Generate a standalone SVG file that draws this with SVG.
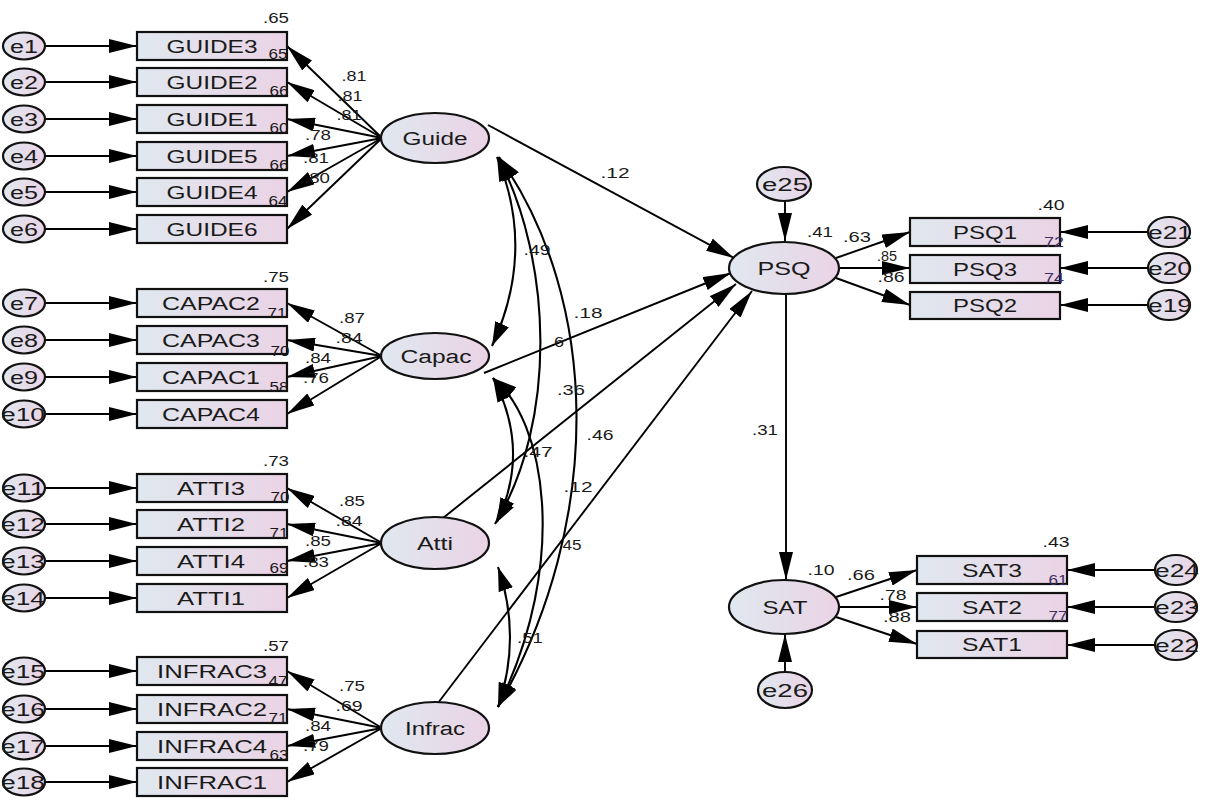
<svg xmlns="http://www.w3.org/2000/svg" width="1218" height="802" viewBox="0 0 1218 802">
<defs>
<linearGradient id="gf" x1="0" y1="0" x2="1" y2="0">
<stop offset="0" stop-color="#e0e8ef"/>
<stop offset="1" stop-color="#ead3e5"/>
</linearGradient>
<marker id="ah" markerUnits="userSpaceOnUse" markerWidth="28" markerHeight="14" refX="28" refY="7" orient="auto-start-reverse" viewBox="0 0 28 14">
<path d="M0,0 L28,7 L0,14 Z" fill="#000"/>
</marker>
<marker id="ac" markerUnits="userSpaceOnUse" markerWidth="24" markerHeight="15" refX="24" refY="7.5" orient="auto-start-reverse" viewBox="0 0 24 15">
<path d="M0,0 L24,7.5 L0,15 Z" fill="#000"/>
</marker>
</defs>
<style>
.b{fill:url(#gf);stroke:#111;stroke-width:2.2}
.t{font-family:"Liberation Sans",Arial,sans-serif;font-size:18px;fill:#1a1a1a;text-anchor:middle}
.n{font-family:"Liberation Sans",Arial,sans-serif;font-size:15px;fill:#1a1a1a;text-anchor:middle}
.p{fill:#3d2f5e}
.l{stroke:#000;stroke-width:1.9;fill:none;marker-end:url(#ah)}
.c{stroke:#000;stroke-width:2.1;fill:none;marker-end:url(#ac);marker-start:url(#ac)}
</style>
<rect width="1218" height="802" fill="#fff"/>

<g id="connectors">
<line class="l" x1="45" y1="46" x2="137" y2="46"/>
<line class="l" x1="45" y1="82" x2="137" y2="82"/>
<line class="l" x1="45" y1="119" x2="137" y2="119"/>
<line class="l" x1="45" y1="156" x2="137" y2="156"/>
<line class="l" x1="45" y1="192" x2="137" y2="192"/>
<line class="l" x1="45" y1="229" x2="137" y2="229"/>
<line class="l" x1="45" y1="303" x2="137" y2="303"/>
<line class="l" x1="45" y1="340" x2="137" y2="340"/>
<line class="l" x1="45" y1="377" x2="137" y2="377"/>
<line class="l" x1="45" y1="414" x2="137" y2="414"/>
<line class="l" x1="45" y1="488" x2="137" y2="488"/>
<line class="l" x1="45" y1="524" x2="137" y2="524"/>
<line class="l" x1="45" y1="561" x2="137" y2="561"/>
<line class="l" x1="45" y1="598" x2="137" y2="598"/>
<line class="l" x1="45" y1="671" x2="137" y2="671"/>
<line class="l" x1="45" y1="709" x2="137" y2="709"/>
<line class="l" x1="45" y1="746" x2="137" y2="746"/>
<line class="l" x1="45" y1="782" x2="137" y2="782"/>
<line class="l" x1="382" y1="138" x2="287" y2="46"/>
<line class="l" x1="382" y1="138" x2="287" y2="82"/>
<line class="l" x1="382" y1="138" x2="287" y2="119"/>
<line class="l" x1="382" y1="138" x2="287" y2="156"/>
<line class="l" x1="382" y1="138" x2="287" y2="192"/>
<line class="l" x1="382" y1="138" x2="287" y2="229"/>
<line class="l" x1="382" y1="356" x2="287" y2="303"/>
<line class="l" x1="382" y1="356" x2="287" y2="340"/>
<line class="l" x1="382" y1="356" x2="287" y2="377"/>
<line class="l" x1="382" y1="356" x2="287" y2="414"/>
<line class="l" x1="382" y1="543" x2="287" y2="488"/>
<line class="l" x1="382" y1="543" x2="287" y2="524"/>
<line class="l" x1="382" y1="543" x2="287" y2="561"/>
<line class="l" x1="382" y1="543" x2="287" y2="598"/>
<line class="l" x1="382" y1="728" x2="287" y2="671"/>
<line class="l" x1="382" y1="728" x2="287" y2="709"/>
<line class="l" x1="382" y1="728" x2="287" y2="746"/>
<line class="l" x1="382" y1="728" x2="287" y2="782"/>
<path class="c" d="M497,157 Q536,251 492,346"/>
<path class="c" d="M498,157 C552,260 558,420 495,524"/>
<path class="c" d="M499,157 C600,300 605,520 498,707"/>
<path class="c" d="M493,378 Q531,450 497,522"/>
<path class="c" d="M493,378 C545,420 570,560 498,707"/>
<path class="c" d="M498,567 Q522,637 498,707"/>
<line class="l" x1="488" y1="125" x2="734" y2="258"/>
<line class="l" x1="484" y1="373" x2="731" y2="273"/>
<line class="l" x1="443" y1="518" x2="736" y2="284"/>
<line class="l" x1="438" y1="703" x2="752" y2="291"/>
<line class="l" x1="786" y1="295" x2="786" y2="580"/>
<line class="l" x1="785" y1="201" x2="785" y2="241"/>
<line class="l" x1="785" y1="672" x2="785" y2="634"/>
<line class="l" x1="836" y1="258" x2="910" y2="232"/>
<line class="l" x1="840" y1="268" x2="910" y2="268"/>
<line class="l" x1="836" y1="278" x2="910" y2="305"/>
<line class="l" x1="1148" y1="232" x2="1060" y2="232"/>
<line class="l" x1="1148" y1="268" x2="1060" y2="268"/>
<line class="l" x1="1148" y1="305" x2="1060" y2="305"/>
<line class="l" x1="836" y1="597" x2="917" y2="570"/>
<line class="l" x1="840" y1="607" x2="917" y2="607"/>
<line class="l" x1="836" y1="617" x2="917" y2="644"/>
<line class="l" x1="1155" y1="570" x2="1067" y2="570"/>
<line class="l" x1="1155" y1="607" x2="1067" y2="607"/>
<line class="l" x1="1155" y1="645" x2="1067" y2="645"/>
</g>

<g id="e1"><ellipse class="b" cx="24" cy="46" rx="21" ry="13.5"/><text class="t" x="24" y="52.5" textLength="28" lengthAdjust="spacingAndGlyphs">e1</text></g>
<g id="e2"><ellipse class="b" cx="24" cy="82" rx="21" ry="13.5"/><text class="t" x="24" y="88.5" textLength="28" lengthAdjust="spacingAndGlyphs">e2</text></g>
<g id="e3"><ellipse class="b" cx="24" cy="119" rx="21" ry="13.5"/><text class="t" x="24" y="125.5" textLength="28" lengthAdjust="spacingAndGlyphs">e3</text></g>
<g id="e4"><ellipse class="b" cx="24" cy="156" rx="21" ry="13.5"/><text class="t" x="24" y="162.5" textLength="28" lengthAdjust="spacingAndGlyphs">e4</text></g>
<g id="e5"><ellipse class="b" cx="24" cy="192" rx="21" ry="13.5"/><text class="t" x="24" y="198.5" textLength="28" lengthAdjust="spacingAndGlyphs">e5</text></g>
<g id="e6"><ellipse class="b" cx="24" cy="229" rx="21" ry="13.5"/><text class="t" x="24" y="235.5" textLength="28" lengthAdjust="spacingAndGlyphs">e6</text></g>
<g id="e7"><ellipse class="b" cx="24" cy="303" rx="21" ry="13.5"/><text class="t" x="24" y="309.5" textLength="28" lengthAdjust="spacingAndGlyphs">e7</text></g>
<g id="e8"><ellipse class="b" cx="24" cy="340" rx="21" ry="13.5"/><text class="t" x="24" y="346.5" textLength="28" lengthAdjust="spacingAndGlyphs">e8</text></g>
<g id="e9"><ellipse class="b" cx="24" cy="377" rx="21" ry="13.5"/><text class="t" x="24" y="383.5" textLength="28" lengthAdjust="spacingAndGlyphs">e9</text></g>
<g id="e10"><ellipse class="b" cx="24" cy="414" rx="21" ry="13.5"/><text class="t" x="23" y="420.5" textLength="44" lengthAdjust="spacingAndGlyphs">e10</text></g>
<g id="e11"><ellipse class="b" cx="24" cy="488" rx="21" ry="13.5"/><text class="t" x="23" y="494.5" textLength="44" lengthAdjust="spacingAndGlyphs">e11</text></g>
<g id="e12"><ellipse class="b" cx="24" cy="524" rx="21" ry="13.5"/><text class="t" x="23" y="530.5" textLength="44" lengthAdjust="spacingAndGlyphs">e12</text></g>
<g id="e13"><ellipse class="b" cx="24" cy="561" rx="21" ry="13.5"/><text class="t" x="23" y="567.5" textLength="44" lengthAdjust="spacingAndGlyphs">e13</text></g>
<g id="e14"><ellipse class="b" cx="24" cy="598" rx="21" ry="13.5"/><text class="t" x="23" y="604.5" textLength="44" lengthAdjust="spacingAndGlyphs">e14</text></g>
<g id="e15"><ellipse class="b" cx="24" cy="671" rx="21" ry="13.5"/><text class="t" x="23" y="677.5" textLength="44" lengthAdjust="spacingAndGlyphs">e15</text></g>
<g id="e16"><ellipse class="b" cx="24" cy="709" rx="21" ry="13.5"/><text class="t" x="23" y="715.5" textLength="44" lengthAdjust="spacingAndGlyphs">e16</text></g>
<g id="e17"><ellipse class="b" cx="24" cy="746" rx="21" ry="13.5"/><text class="t" x="23" y="752.5" textLength="44" lengthAdjust="spacingAndGlyphs">e17</text></g>
<g id="e18"><ellipse class="b" cx="24" cy="782" rx="21" ry="13.5"/><text class="t" x="23" y="788.5" textLength="44" lengthAdjust="spacingAndGlyphs">e18</text></g>

<g id="GUIDE3"><rect class="b" x="137" y="32" width="150" height="28"/><text class="t" x="212" y="52.5" textLength="91" lengthAdjust="spacingAndGlyphs">GUIDE3</text></g>
<g id="GUIDE2"><rect class="b" x="137" y="68" width="150" height="28"/><text class="t" x="212" y="88.5" textLength="91" lengthAdjust="spacingAndGlyphs">GUIDE2</text></g>
<g id="GUIDE1"><rect class="b" x="137" y="105" width="150" height="28"/><text class="t" x="212" y="125.5" textLength="91" lengthAdjust="spacingAndGlyphs">GUIDE1</text></g>
<g id="GUIDE5"><rect class="b" x="137" y="142" width="150" height="28"/><text class="t" x="212" y="162.5" textLength="91" lengthAdjust="spacingAndGlyphs">GUIDE5</text></g>
<g id="GUIDE4"><rect class="b" x="137" y="178" width="150" height="28"/><text class="t" x="212" y="198.5" textLength="91" lengthAdjust="spacingAndGlyphs">GUIDE4</text></g>
<g id="GUIDE6"><rect class="b" x="137" y="215" width="150" height="28"/><text class="t" x="212" y="235.5" textLength="91" lengthAdjust="spacingAndGlyphs">GUIDE6</text></g>
<g id="CAPAC2"><rect class="b" x="137" y="289" width="150" height="28"/><text class="t" x="211" y="309.5" textLength="98" lengthAdjust="spacingAndGlyphs">CAPAC2</text></g>
<g id="CAPAC3"><rect class="b" x="137" y="326" width="150" height="28"/><text class="t" x="211" y="346.5" textLength="98" lengthAdjust="spacingAndGlyphs">CAPAC3</text></g>
<g id="CAPAC1"><rect class="b" x="137" y="363" width="150" height="28"/><text class="t" x="211" y="383.5" textLength="98" lengthAdjust="spacingAndGlyphs">CAPAC1</text></g>
<g id="CAPAC4"><rect class="b" x="137" y="400" width="150" height="28"/><text class="t" x="211" y="420.5" textLength="98" lengthAdjust="spacingAndGlyphs">CAPAC4</text></g>
<g id="ATTI3"><rect class="b" x="137" y="474" width="150" height="28"/><text class="t" x="211" y="494.5" textLength="68" lengthAdjust="spacingAndGlyphs">ATTI3</text></g>
<g id="ATTI2"><rect class="b" x="137" y="510" width="150" height="28"/><text class="t" x="211" y="530.5" textLength="68" lengthAdjust="spacingAndGlyphs">ATTI2</text></g>
<g id="ATTI4"><rect class="b" x="137" y="547" width="150" height="28"/><text class="t" x="211" y="567.5" textLength="68" lengthAdjust="spacingAndGlyphs">ATTI4</text></g>
<g id="ATTI1"><rect class="b" x="137" y="584" width="150" height="28"/><text class="t" x="211" y="604.5" textLength="68" lengthAdjust="spacingAndGlyphs">ATTI1</text></g>
<g id="INFRAC3"><rect class="b" x="137" y="657" width="150" height="28"/><text class="t" x="212" y="677.5" textLength="110" lengthAdjust="spacingAndGlyphs">INFRAC3</text></g>
<g id="INFRAC2"><rect class="b" x="137" y="695" width="150" height="28"/><text class="t" x="212" y="715.5" textLength="110" lengthAdjust="spacingAndGlyphs">INFRAC2</text></g>
<g id="INFRAC4"><rect class="b" x="137" y="732" width="150" height="28"/><text class="t" x="212" y="752.5" textLength="110" lengthAdjust="spacingAndGlyphs">INFRAC4</text></g>
<g id="INFRAC1"><rect class="b" x="137" y="768" width="150" height="28"/><text class="t" x="212" y="788.5" textLength="110" lengthAdjust="spacingAndGlyphs">INFRAC1</text></g>

<g id="Guide"><ellipse class="b" cx="435" cy="138" rx="54" ry="25"/><text class="t" x="435" y="144.5" textLength="65" lengthAdjust="spacingAndGlyphs">Guide</text></g>
<g id="Capac"><ellipse class="b" cx="435" cy="356" rx="54" ry="23"/><text class="t" x="436" y="362.5" textLength="71" lengthAdjust="spacingAndGlyphs">Capac</text></g>
<g id="Atti"><ellipse class="b" cx="435" cy="543" rx="54" ry="26"/><text class="t" x="435" y="549.5" textLength="36" lengthAdjust="spacingAndGlyphs">Atti</text></g>
<g id="Infrac"><ellipse class="b" cx="435" cy="728" rx="54" ry="26"/><text class="t" x="435" y="734.5" textLength="60" lengthAdjust="spacingAndGlyphs">Infrac</text></g>
<g id="PSQ"><ellipse class="b" cx="784" cy="268" rx="55" ry="26"/><text class="t" x="784" y="274.5" textLength="53" lengthAdjust="spacingAndGlyphs">PSQ</text></g>
<g id="SAT"><ellipse class="b" cx="784" cy="607" rx="55" ry="27"/><text class="t" x="785" y="613.5" textLength="45" lengthAdjust="spacingAndGlyphs">SAT</text></g>
<g id="e25"><ellipse class="b" cx="784" cy="184" rx="27" ry="17"/><text class="t" x="785" y="190.5" textLength="46" lengthAdjust="spacingAndGlyphs">e25</text></g>
<g id="e26"><ellipse class="b" cx="785" cy="690" rx="27" ry="18"/><text class="t" x="785" y="696.5" textLength="46" lengthAdjust="spacingAndGlyphs">e26</text></g>

<g id="PSQ1"><rect class="b" x="910" y="218" width="150" height="28"/><text class="t" x="985" y="238.5" textLength="64" lengthAdjust="spacingAndGlyphs">PSQ1</text></g>
<g id="PSQ3"><rect class="b" x="910" y="255" width="150" height="28"/><text class="t" x="985" y="275.5" textLength="64" lengthAdjust="spacingAndGlyphs">PSQ3</text></g>
<g id="PSQ2"><rect class="b" x="910" y="292" width="150" height="27"/><text class="t" x="985" y="312" textLength="64" lengthAdjust="spacingAndGlyphs">PSQ2</text></g>
<g id="e21"><ellipse class="b" cx="1169" cy="232" rx="21" ry="15"/><text class="t" x="1170" y="238.5" textLength="44" lengthAdjust="spacingAndGlyphs">e21</text></g>
<g id="e20"><ellipse class="b" cx="1169" cy="268" rx="21" ry="15"/><text class="t" x="1170" y="274.5" textLength="44" lengthAdjust="spacingAndGlyphs">e20</text></g>
<g id="e19"><ellipse class="b" cx="1169" cy="305" rx="21" ry="15"/><text class="t" x="1170" y="311.5" textLength="44" lengthAdjust="spacingAndGlyphs">e19</text></g>
<g id="SAT3"><rect class="b" x="917" y="556" width="150" height="28"/><text class="t" x="992" y="576.5" textLength="60" lengthAdjust="spacingAndGlyphs">SAT3</text></g>
<g id="SAT2"><rect class="b" x="917" y="593" width="150" height="28"/><text class="t" x="992" y="613.5" textLength="60" lengthAdjust="spacingAndGlyphs">SAT2</text></g>
<g id="SAT1"><rect class="b" x="917" y="631" width="150" height="27"/><text class="t" x="992" y="651" textLength="60" lengthAdjust="spacingAndGlyphs">SAT1</text></g>
<g id="e24"><ellipse class="b" cx="1176" cy="570" rx="21" ry="15"/><text class="t" x="1177" y="576.5" textLength="44" lengthAdjust="spacingAndGlyphs">e24</text></g>
<g id="e23"><ellipse class="b" cx="1176" cy="607" rx="21" ry="15"/><text class="t" x="1177" y="613.5" textLength="44" lengthAdjust="spacingAndGlyphs">e23</text></g>
<g id="e22"><ellipse class="b" cx="1176" cy="645" rx="21" ry="15"/><text class="t" x="1177" y="651.5" textLength="44" lengthAdjust="spacingAndGlyphs">e22</text></g>

<g id="labels">
<text class="n" x="276" y="23" textLength="26" lengthAdjust="spacingAndGlyphs">.65</text>
<text class="n" x="278" y="59" textLength="19" lengthAdjust="spacingAndGlyphs">65</text>
<text class="n" x="279" y="96" textLength="19" lengthAdjust="spacingAndGlyphs">66</text>
<text class="n" x="279" y="133" textLength="19" lengthAdjust="spacingAndGlyphs">60</text>
<text class="n" x="279" y="170" textLength="19" lengthAdjust="spacingAndGlyphs">66</text>
<text class="n" x="278" y="206" textLength="19" lengthAdjust="spacingAndGlyphs">64</text>
<text class="n" x="354" y="81" textLength="25" lengthAdjust="spacingAndGlyphs">.81</text>
<text class="n" x="350" y="101" textLength="25" lengthAdjust="spacingAndGlyphs">.81</text>
<text class="n" x="349" y="120" textLength="25" lengthAdjust="spacingAndGlyphs">.81</text>
<text class="n" x="318" y="140" textLength="26" lengthAdjust="spacingAndGlyphs">.78</text>
<text class="n" x="316" y="163" textLength="26" lengthAdjust="spacingAndGlyphs">.81</text>
<text class="n" x="317" y="183" textLength="26" lengthAdjust="spacingAndGlyphs">.80</text>
<text class="n" x="276" y="282" textLength="26" lengthAdjust="spacingAndGlyphs">.75</text>
<text class="n" x="277" y="318" textLength="19" lengthAdjust="spacingAndGlyphs">71</text>
<text class="n" x="280" y="356" textLength="19" lengthAdjust="spacingAndGlyphs">70</text>
<text class="n" x="279" y="392" textLength="19" lengthAdjust="spacingAndGlyphs">58</text>
<text class="n" x="352" y="323" textLength="26" lengthAdjust="spacingAndGlyphs">.87</text>
<text class="n" x="349" y="343" textLength="27" lengthAdjust="spacingAndGlyphs">.84</text>
<text class="n" x="318" y="363" textLength="26" lengthAdjust="spacingAndGlyphs">.84</text>
<text class="n" x="316" y="383" textLength="26" lengthAdjust="spacingAndGlyphs">.76</text>
<text class="n" x="276" y="466" textLength="26" lengthAdjust="spacingAndGlyphs">.73</text>
<text class="n" x="280" y="502" textLength="19" lengthAdjust="spacingAndGlyphs">70</text>
<text class="n" x="279" y="538" textLength="19" lengthAdjust="spacingAndGlyphs">71</text>
<text class="n" x="279" y="573" textLength="19" lengthAdjust="spacingAndGlyphs">69</text>
<text class="n" x="352" y="506" textLength="26" lengthAdjust="spacingAndGlyphs">.85</text>
<text class="n" x="349" y="526" textLength="27" lengthAdjust="spacingAndGlyphs">.84</text>
<text class="n" x="318" y="546" textLength="26" lengthAdjust="spacingAndGlyphs">.85</text>
<text class="n" x="316" y="567" textLength="26" lengthAdjust="spacingAndGlyphs">.83</text>
<text class="n" x="276" y="651" textLength="26" lengthAdjust="spacingAndGlyphs">.57</text>
<text class="n" x="278" y="686" textLength="19" lengthAdjust="spacingAndGlyphs">47</text>
<text class="n" x="278" y="723" textLength="19" lengthAdjust="spacingAndGlyphs">71</text>
<text class="n" x="279" y="760" textLength="19" lengthAdjust="spacingAndGlyphs">63</text>
<text class="n" x="352" y="691" textLength="26" lengthAdjust="spacingAndGlyphs">.75</text>
<text class="n" x="349" y="711" textLength="27" lengthAdjust="spacingAndGlyphs">.69</text>
<text class="n" x="318" y="731" textLength="26" lengthAdjust="spacingAndGlyphs">.84</text>
<text class="n" x="316" y="751" textLength="26" lengthAdjust="spacingAndGlyphs">.79</text>
<text class="n" x="615" y="178" textLength="29" lengthAdjust="spacingAndGlyphs">.12</text>
<text class="n" x="537" y="255" textLength="27" lengthAdjust="spacingAndGlyphs">.49</text>
<text class="n" x="588" y="318" textLength="29" lengthAdjust="spacingAndGlyphs">.18</text>
<text class="n" x="559" y="347" textLength="10" lengthAdjust="spacingAndGlyphs">6</text>
<text class="n" x="571" y="395" textLength="28" lengthAdjust="spacingAndGlyphs">.36</text>
<text class="n" x="600" y="440" textLength="27" lengthAdjust="spacingAndGlyphs">.46</text>
<text class="n" x="538" y="457" textLength="29" lengthAdjust="spacingAndGlyphs">.47</text>
<text class="n" x="578" y="492" textLength="29" lengthAdjust="spacingAndGlyphs">.12</text>
<text class="n" x="572" y="550" textLength="19" lengthAdjust="spacingAndGlyphs">45</text>
<text class="n" x="530" y="643" textLength="26" lengthAdjust="spacingAndGlyphs">.51</text>
<text class="n" x="765" y="435" textLength="26" lengthAdjust="spacingAndGlyphs">.31</text>
<text class="n" x="820" y="237" textLength="26" lengthAdjust="spacingAndGlyphs">.41</text>
<text class="n" x="857" y="242" textLength="28" lengthAdjust="spacingAndGlyphs">.63</text>
<text class="n" x="1051" y="210" textLength="27" lengthAdjust="spacingAndGlyphs">.40</text>
<text class="n" x="887" y="261" textLength="20" lengthAdjust="spacingAndGlyphs">.85</text>
<text class="n" x="891" y="282" textLength="27" lengthAdjust="spacingAndGlyphs">.86</text>
<text class="n p" x="1054" y="247" textLength="20" lengthAdjust="spacingAndGlyphs">72</text>
<text class="n p" x="1054" y="283" textLength="20" lengthAdjust="spacingAndGlyphs">74</text>
<text class="n" x="1056" y="547" textLength="27" lengthAdjust="spacingAndGlyphs">.43</text>
<text class="n" x="821" y="575" textLength="27" lengthAdjust="spacingAndGlyphs">.10</text>
<text class="n" x="861" y="580" textLength="28" lengthAdjust="spacingAndGlyphs">.66</text>
<text class="n" x="893" y="600" textLength="27" lengthAdjust="spacingAndGlyphs">.78</text>
<text class="n" x="897" y="622" textLength="28" lengthAdjust="spacingAndGlyphs">.88</text>
<text class="n p" x="1058" y="585" textLength="19" lengthAdjust="spacingAndGlyphs">61</text>
<text class="n p" x="1058" y="621" textLength="19" lengthAdjust="spacingAndGlyphs">77</text>
</g>
</svg>
